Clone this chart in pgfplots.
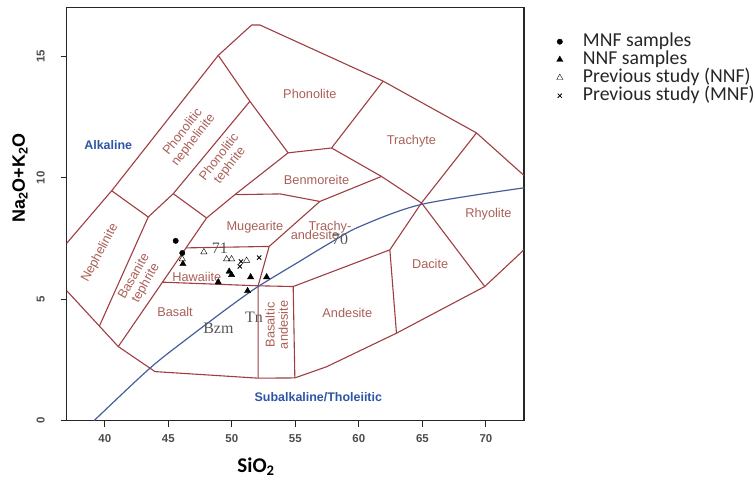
\documentclass[border=0pt]{standalone}
\usepackage{fontspec}
\setmainfont{Liberation Sans}
\newfontfamily\carlito{Carlito}
\newfontfamily\serifl{Liberation Serif}
\usepackage{pgfplots}
\pgfplotsset{compat=1.18}
\definecolor{bnd}{RGB}{158,62,66}
\definecolor{labcol}{RGB}{170,95,88}
\definecolor{bline}{RGB}{70,95,155}
\definecolor{btext}{RGB}{45,85,165}
\definecolor{gtext}{RGB}{85,85,85}
\pgfplotsset{
  bnd/.style={no marks, draw=bnd, line width=1.1bp, forget plot, line join=round},
  legimg/.style={legend image code/.code={\draw[##1] plot coordinates {(0bp,0bp)};}},
}
\tikzset{
  lab/.style={text=labcol, font=\fontsize{12.8}{13.5}\selectfont},
  gl/.style={text=gtext, font=\serifl\fontsize{16}{16}\selectfont},
}
\begin{document}
\begin{tikzpicture}
\begin{axis}[
  scale only axis, width=457.3bp, height=413.2bp,
  xmin=37, xmax=73, ymin=0, ymax=17,
  xtick={40,45,...,70}, ytick={0,5,10,15},
  xtick pos=bottom, ytick pos=left, tick align=outside,
  major tick length=6bp,
  axis line style={line width=1.3bp, black!85},
  every tick/.style={black!85, line width=1.1bp},
  /pgf/number format/assume math mode=true,
  tick label style={font=\bfseries\fontsize{11.5}{11.5}\selectfont, text=black!70},
  yticklabel style={xshift=-20bp, rotate=90, anchor=center},
  xticklabel style={anchor=center, yshift=-12bp},
  xlabel={SiO\textsubscript{2}},
  xlabel style={font=\carlito\bfseries\fontsize{21}{21}\selectfont, at={(axis description cs:0.414,0)}, anchor=center, yshift=-46bp},
  ylabel={Na\textsubscript{2}O+K\textsubscript{2}O},
  ylabel style={font=\bfseries\fontsize{18}{18}\selectfont, at={(axis description cs:-0.102,0.587)}, anchor=center},
  legend style={at={(rel axis cs:1,1)}, anchor=north west, xshift=32.5bp, yshift=-25.5bp,
    draw=none, fill=none, inner sep=0pt, font=\carlito\fontsize{19.8}{19.8}\selectfont, text=black!85,
    row sep=1bp, column sep=20bp, nodes={inner sep=0bp, text height=13bp, text depth=4bp}},
  legend cell align=left,
]
% field boundaries
\addplot[bnd] coordinates {(37,7.3)(40.54,9.46)(48.93,15.03)(51.56,16.28)(52.21,16.28)(61.91,13.97)(69.26,11.84)(73,10.09)};
\addplot[bnd] coordinates {(73,7.03)(69.91,5.52)(62.96,3.60)(57.46,2.22)(54.96,1.76)(52.07,1.75)(43.95,2.02)(41.06,3.05)(37,5.35)};
\addplot[bnd] coordinates {(40.54,9.46)(43.42,8.38)};
\addplot[bnd] coordinates {(43.42,8.38)(39.58,3.90)};
\addplot[bnd] coordinates {(43.42,8.38)(45.39,9.34)(51.42,13.14)};
\addplot[bnd] coordinates {(48.93,15.03)(51.42,13.14)(54.43,11.02)};
\addplot[bnd] coordinates {(45.39,9.34)(48.01,8.34)};
\addplot[bnd] coordinates {(41.06,3.05)(48.01,8.34)(50.24,9.30)(54.43,11.02)};
\addplot[bnd] coordinates {(54.43,11.02)(57.85,11.22)(61.91,13.97)};
\addplot[bnd] coordinates {(57.85,11.22)(61.78,10.05)(64.93,8.96)(69.91,5.52)};
\addplot[bnd] coordinates {(69.26,11.84)(64.93,8.96)(62.44,7.03)(62.96,3.60)};
\addplot[bnd] coordinates {(50.24,9.30)(53.8,9.33)(56.93,9.02)(61.78,10.05)};
\addplot[bnd] coordinates {(56.93,9.02)(52.94,7.17)(52.07,5.55)(52.07,1.75)};
\addplot[bnd] coordinates {(46.39,7.11)(52.94,7.17)};
\addplot[bnd] coordinates {(44.5,5.7)(52.07,5.55)(54.83,5.52)(62.44,7.03)};
\addplot[bnd] coordinates {(54.83,5.52)(54.96,1.76)};
% alkaline / subalkaline divide
\addplot[no marks, draw=bline, line width=1.2bp, forget plot, smooth] coordinates {(39.15,0)(43.55,2.16)(46.7,3.46)(49.85,4.70)(52.07,5.52)(55,6.45)(57.72,7.31)(60.08,7.99)(64.93,8.9)(73,9.58)};
% labels
\node[lab] at (axis cs:56.14,13.45) {Phonolite};
\node[lab] at (axis cs:64.14,11.5) {Trachyte};
\node[lab] at (axis cs:56.67,9.92) {Benmoreite};
\node[lab, align=center, rotate=52] at (axis cs:46.57,11.70) {Phonolitic\\nephelinite};
\node[lab, align=center, rotate=52] at (axis cs:49.45,10.67) {Phonolitic\\tephrite};
\node[lab] at (axis cs:51.82,7.97) {Mugearite};
\node[lab] at (axis cs:57.72,7.96) {Trachy-};
\node[lab] at (axis cs:56.54,7.64) {andesite};
\node[lab] at (axis cs:47.24,5.93) {Hawaiite};
\node[lab, rotate=62] at (axis cs:39.62,6.9) {Nephelinite};
\node[lab, align=center, rotate=60] at (axis cs:42.77,5.79) {Basanite\\tephrite};
\node[lab] at (axis cs:45.53,4.46) {Basalt};
\node[lab, align=center, rotate=90] at (axis cs:53.53,3.94) {Basaltic\\andesite};
\node[lab] at (axis cs:59.09,4.42) {Andesite};
\node[lab] at (axis cs:65.61,6.44) {Dacite};
\node[lab] at (axis cs:70.2,8.51) {Rhyolite};
\node[text=btext, font=\bfseries\fontsize{12.5}{13}\selectfont] at (axis cs:40.27,11.33) {Alkaline};
\node[text=btext, font=\bfseries\fontsize{12.5}{13}\selectfont] at (axis cs:56.81,0.96) {Subalkaline/Tholeiitic};
\node[gl] at (axis cs:48.94,3.80) {Bzm};
\node[gl] at (axis cs:51.75,4.26) {Tn};
\node[gl] at (axis cs:49.05,7.09) {71};
\node[gl] at (axis cs:58.52,7.46) {70};
% data
\addplot[only marks, mark=*, mark size=2.7bp, black, legimg] coordinates {(45.58,7.40)(46.1,6.9)};
\addplot[only marks, mark=triangle*, mark size=3.6bp, black, legimg] coordinates {(49.79,6.14)(49.98,6.0)(51.48,5.91)(52.74,5.91)(48.93,5.70)(51.24,5.34)(46.15,6.45)};
\addplot[only marks, mark=triangle, mark size=3.6bp, black, thin, legimg] coordinates {(47.80,6.94)(49.59,6.65)(49.98,6.65)(51.16,6.59)(46.1,6.65)};
\addplot[only marks, mark=x, mark size=3bp, black, thick, legimg] coordinates {(52.15,6.71)(50.72,6.55)(50.63,6.35)};
\legend{MNF samples, NNF samples, Previous study (NNF), Previous study (MNF)}
\end{axis}
\pgfresetboundingbox
\path[use as bounding box] (-66.7bp,-61.3bp) rectangle (688.3bp,420.7bp);
\end{tikzpicture}
\end{document}
